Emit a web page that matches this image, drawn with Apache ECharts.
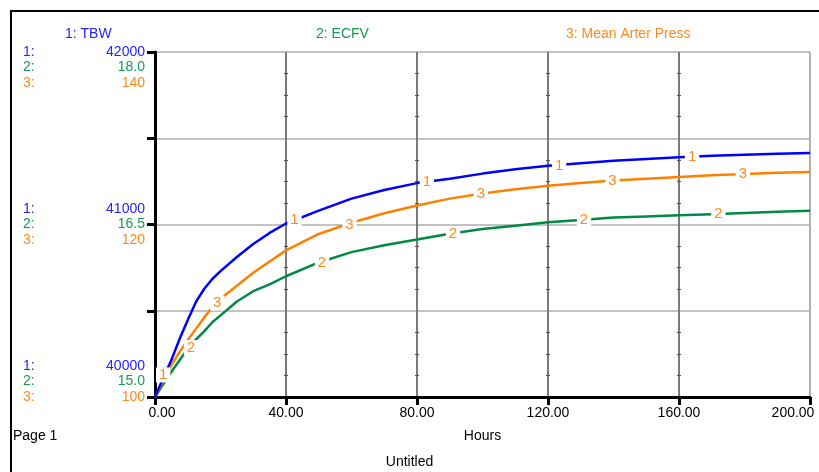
<!DOCTYPE html>
<html>
<head>
<meta charset="utf-8">
<script src="https://cdn.jsdelivr.net/npm/echarts@6/dist/echarts.min.js"></script>
<style>
  html, body { margin: 0; padding: 0; background: #fff; }
  #chart { width: 819px; height: 472px; }
</style>
</head>
<body>
<div id="chart"></div>
<script>
// Simulation time (hours)
const hours = [0, 2.5, 5, 7.5, 10, 12.5, 15, 17.5, 20, 25, 30, 35, 40, 50, 60, 70, 80, 90, 100, 110, 120, 130, 140, 150, 160, 170, 180, 190, 200];

// 1: TBW (total body water)
const tbw = [40000, 40110, 40214, 40336, 40446, 40551, 40626, 40684, 40730, 40812, 40887, 40951, 41006, 41080, 41150, 41200, 41240, 41265, 41295, 41320, 41340, 41355, 41370, 41380, 41390, 41398, 41405, 41410, 41415];

// 2: ECFV (extracellular fluid volume)
const ecfv = [15.00, 15.11, 15.22, 15.32, 15.42, 15.50, 15.57, 15.65, 15.71, 15.83, 15.92, 15.98, 16.05, 16.17, 16.26, 16.32, 16.37, 16.42, 16.46, 16.49, 16.52, 16.54, 16.56, 16.57, 16.58, 16.59, 16.60, 16.61, 16.62];

// 3: Mean Arter Press
const map = [100.0, 101.9, 103.7, 105.2, 106.6, 107.9, 109.2, 110.4, 111.4, 112.9, 114.4, 115.7, 117.0, 118.9, 120.2, 121.3, 122.2, 123.0, 123.6, 124.1, 124.5, 124.8, 125.1, 125.3, 125.5, 125.7, 125.85, 126.0, 126.1];

// Curve number markers placed along each trace
const tbwMarkHours = [2.5, 42.6, 83, 123.4, 164];
const tbwMarkVals = [40128, 41025, 41245, 41338, 41391];
const ecfvMarkHours = [11, 51, 91, 131, 172];
const ecfvMarkVals = [15.43, 16.17, 16.42, 16.54, 16.59];
const mapMarkHours = [19, 59.4, 99.5, 139.7, 179.5];
const mapMarkVals = [110.9, 120.0, 123.5, 125.1, 125.85];

// Scale ranges and tick labels
const xTicks = [0, 40, 80, 120, 160, 200];
const tbwRange = [40000, 42000];
const ecfvRange = [15, 18];
const mapRange = [100, 140];
const tbwLabels = ['40000', '41000', '42000'];
const ecfvLabels = ['15.0', '16.5', '18.0'];
const mapLabels = ['100', '120', '140'];

const seriesTitles = ['1: TBW', '2: ECFV', '3: Mean Arter Press'];

const BLUE = '#0000ff', GREEN = '#008a45', ORANGE = '#ff8000';
const BLUE_T = '#2424ff', GREEN_T = '#159a55', ORANGE_T = '#ff8a1c';
const FONT = '"Liberation Sans", Arial, sans-serif';

const pairs = (xs, ys) => xs.map((x, i) => [x, ys[i]]);

const LH = 15.5;
const richStyles = {
  p1: { color: BLUE_T, width: 20, align: 'left', lineHeight: LH, fontSize: 14, fontFamily: FONT },
  p2: { color: GREEN_T, width: 20, align: 'left', lineHeight: LH, fontSize: 14, fontFamily: FONT },
  p3: { color: ORANGE_T, width: 20, align: 'left', lineHeight: LH, fontSize: 14, fontFamily: FONT },
  v1: { color: BLUE_T, width: 102, align: 'right', lineHeight: LH, fontSize: 14, fontFamily: FONT },
  v2: { color: GREEN_T, width: 102, align: 'right', lineHeight: LH, fontSize: 14, fontFamily: FONT },
  v3: { color: ORANGE_T, width: 102, align: 'right', lineHeight: LH, fontSize: 14, fontFamily: FONT },
  e: { width: 122, lineHeight: LH, fontSize: 14 }
};

function groupLines(k) {
  return [
    '{p1|1:}{v1|' + tbwLabels[k] + '}',
    '{p2|2:}{v2|' + ecfvLabels[k] + '}',
    '{p3|3:}{v3|' + mapLabels[k] + '}'
  ];
}

function yLabel(v) {
  const blank = '{e| }';
  if (v === tbwRange[1]) return [blank, blank].concat(groupLines(2)).join('\n');
  if (v === (tbwRange[0] + tbwRange[1]) / 2) return groupLines(1).join('\n');
  if (v === tbwRange[0]) return groupLines(0).concat([blank, blank]).join('\n');
  return '';
}

// Thin helper axes that carry the small ticks along the inner vertical grid lines
const GRID_LEFT = 155, GRID_RIGHT_X = 810;
const plotW = GRID_RIGHT_X - GRID_LEFT;
const tickAxes = xTicks.slice(1, -1).map(function (t) {
  const gx = GRID_LEFT + plotW * (t - xTicks[0]) / (xTicks[xTicks.length - 1] - xTicks[0]);
  return {
    type: 'value', position: 'left', min: tbwRange[0], max: tbwRange[1], interval: 500,
    offset: -(gx + 2 - GRID_LEFT),
    axisLine: { show: false }, axisTick: { show: false }, axisLabel: { show: false },
    splitLine: { show: false },
    minorTick: { show: true, splitNumber: 4, length: 4, lineStyle: { color: '#555', width: 1 } }
  };
});

function markSeries(hs, vs, yIdx, txt) {
  return {
    type: 'scatter', yAxisIndex: yIdx, z: 10, zlevel: 1,
    data: pairs(hs, vs), symbol: 'rect', symbolSize: 1,
    itemStyle: { color: 'rgba(255,255,255,0)', opacity: 1 },
    label: {
      show: true, position: 'inside', formatter: txt, opacity: 1,
      color: ORANGE_T, fontSize: 15, fontFamily: FONT,
      backgroundColor: '#ffffff', padding: [0, 3]
    },
    emphasis: { disabled: true }, silent: true
  };
}

const chart = echarts.init(document.getElementById('chart'), null, { renderer: 'canvas' });
chart.setOption({
  animation: false,
  backgroundColor: '#ffffff',
  textStyle: { fontFamily: FONT },
  title: [
    { text: seriesTitles[0], left: 60, top: 22, textStyle: { color: BLUE_T, fontSize: 14, fontWeight: 'normal', fontFamily: FONT } },
    { text: seriesTitles[1], left: 311, top: 22, textStyle: { color: GREEN_T, fontSize: 14, fontWeight: 'normal', fontFamily: FONT } },
    { text: seriesTitles[2], left: 561, top: 22, textStyle: { color: ORANGE_T, fontSize: 14, fontWeight: 'normal', fontFamily: FONT } }
  ],
  graphic: [
    { type: 'line', shape: { x1: 10, y1: 11, x2: 819, y2: 11 }, style: { stroke: '#000', lineWidth: 2 } },
    { type: 'line', shape: { x1: 11, y1: 10, x2: 11, y2: 472 }, style: { stroke: '#000', lineWidth: 2 } },
    { type: 'text', left: 13, top: 429, style: { text: 'Page 1', fill: '#000', fontSize: 14, fontFamily: FONT } },
    { type: 'text', left: 'center', top: 455, style: { text: 'Untitled', fill: '#000', fontSize: 14, fontFamily: FONT } }
  ],
  grid: { left: GRID_LEFT, top: 52, right: 819 - GRID_RIGHT_X, bottom: 75, containLabel: false },
  xAxis: {
    type: 'value', min: xTicks[0], max: xTicks[xTicks.length - 1], interval: 40,
    name: 'Hours', nameLocation: 'middle', nameGap: 32,
    nameTextStyle: { color: '#000', fontSize: 14, fontFamily: FONT },
    axisLine: { lineStyle: { color: '#000', width: 3 } },
    axisTick: { length: 8, lineStyle: { color: '#000', width: 3 } },
    axisLabel: {
      color: '#000', fontSize: 14, fontFamily: FONT, margin: 9,
      formatter: function (v) {
        const s = v.toFixed(2);
        if (v === xTicks[0]) return '{m|' + s + '}';
        if (v === xTicks[xTicks.length - 1]) return '{M|' + s + '}';
        return s;
      },
      rich: {
        m: { padding: [0, 0, 0, 14], color: '#000', fontSize: 14, fontFamily: FONT },
        M: { padding: [0, 34, 0, 0], color: '#000', fontSize: 14, fontFamily: FONT }
      }
    },
    splitLine: {
      show: true,
      lineStyle: { color: ['#7a7a7a', '#7a7a7a', '#7a7a7a', '#7a7a7a', '#7a7a7a', '#b0b0b0'], width: 2 }
    }
  },
  yAxis: [
    {
      type: 'value', min: tbwRange[0], max: tbwRange[1], interval: 500, position: 'left',
      axisLine: { show: true, lineStyle: { color: '#000', width: 3 } },
      axisTick: { show: true, length: 8, lineStyle: { color: '#000', width: 3 } },
      axisLabel: { margin: 10, align: 'right', formatter: yLabel, rich: richStyles, showMinLabel: true, showMaxLabel: true },
      splitLine: { show: true, lineStyle: { color: '#c2c2c2', width: 2 } }
    },
    { type: 'value', min: ecfvRange[0], max: ecfvRange[1], show: false, splitLine: { show: false } },
    { type: 'value', min: mapRange[0], max: mapRange[1], show: false, splitLine: { show: false } }
  ].concat(tickAxes),
  series: [
    { name: 'TBW', type: 'line', yAxisIndex: 0, data: pairs(hours, tbw), showSymbol: false, symbol: 'none',
      lineStyle: { color: BLUE, width: 2.5 }, z: 4 },
    { name: 'ECFV', type: 'line', yAxisIndex: 1, data: pairs(hours, ecfv), showSymbol: false, symbol: 'none',
      lineStyle: { color: GREEN, width: 2.5 }, z: 3 },
    { name: 'Mean Arter Press', type: 'line', yAxisIndex: 2, data: pairs(hours, map), showSymbol: false, symbol: 'none',
      lineStyle: { color: ORANGE, width: 2.5 }, z: 3 },
    markSeries(tbwMarkHours, tbwMarkVals, 0, '1'),
    markSeries(ecfvMarkHours, ecfvMarkVals, 1, '2'),
    markSeries(mapMarkHours, mapMarkVals, 2, '3')
  ]
});
</script>
</body>
</html>
